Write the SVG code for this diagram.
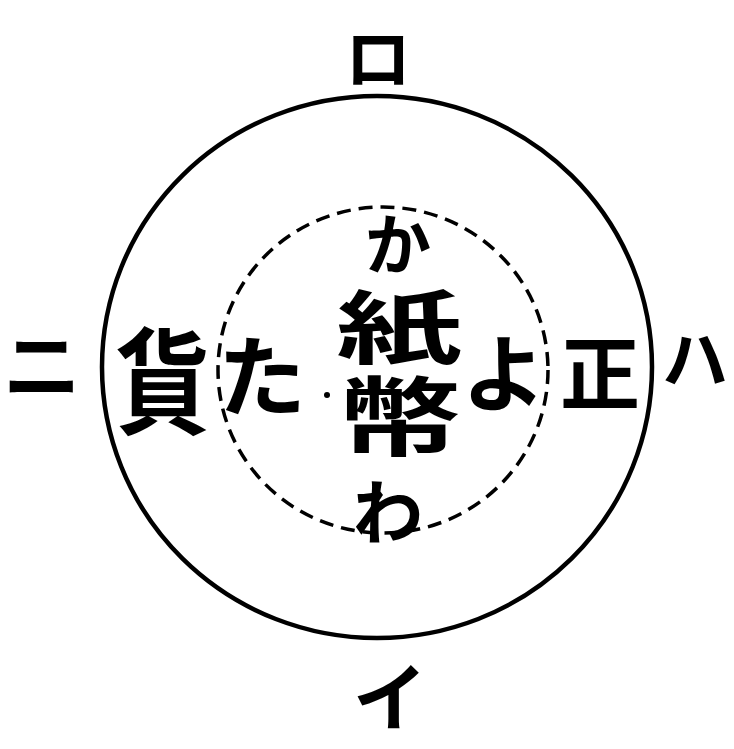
<svg xmlns="http://www.w3.org/2000/svg" width="734" height="749" viewBox="0 0 734 749">
<style>
.t{font-family:"Noto Sans CJK JP","Noto Sans CJK SC",sans-serif;font-weight:700;fill:#000;text-anchor:middle;dominant-baseline:central}
</style>
<rect width="734" height="749" fill="#fff"/>
<g id="outer-circle"><ellipse cx="377" cy="367" rx="275" ry="271" fill="none" stroke="#000" stroke-width="4.5"/></g>
<g id="inner-circle"><ellipse cx="383" cy="370" rx="165" ry="163" fill="none" stroke="#000" stroke-width="3.5" stroke-dasharray="14 8"/></g>
<circle cx="327" cy="395" r="3" fill="#000"/>
<g id="labels">
<text class="t" x="378" y="54" font-size="66">ロ</text>
<text class="t" x="390" y="692" font-size="74">イ</text>
<text class="t" x="42" y="361" font-size="78">ニ</text>
<text class="t" x="695" y="355" font-size="66">ハ</text>
</g>
<g id="ring-text">
<text class="t" x="163" y="375" font-size="100" transform="translate(163 375) scale(0.95 1.15) translate(-163 -375)">貨</text>
<text class="t" x="262" y="370" font-size="88">た</text>
<text class="t" x="504" y="368" font-size="84">よ</text>
<text class="t" x="600" y="368" font-size="80">正</text>
</g>
<g id="center-text">
<text class="t" x="398" y="240" font-size="66">か</text>
<text class="t" x="399" y="322" font-size="84" transform="translate(399 322) scale(1.5 0.95) translate(-399 -322)">紙</text>
<text class="t" x="399" y="412" font-size="86" transform="translate(399 412) scale(1.45 1) translate(-399 -412)">幣</text>
<text class="t" x="388" y="508" font-size="70">わ</text>
</g>
</svg>
